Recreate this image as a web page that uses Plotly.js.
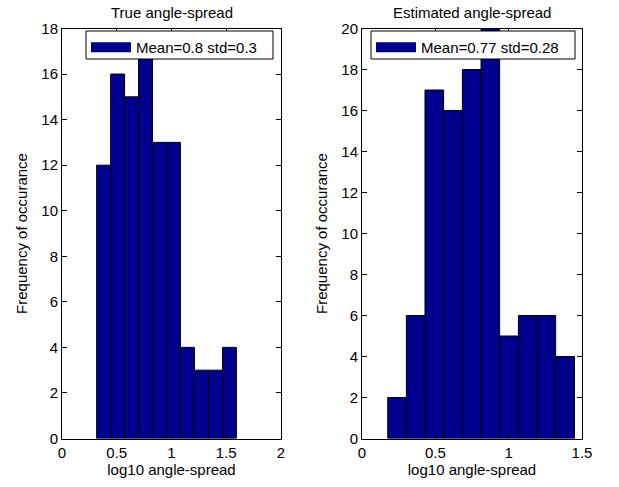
<!DOCTYPE html>
<html>
<head>
<meta charset="utf-8">
<script src="https://cdn.plot.ly/plotly-3.0.1.min.js"></script>
<style>html,body{margin:0;padding:0;background:#fff;}#chart{width:619px;height:487px;}</style>
</head>
<body>
<div id="chart"></div>
<script>
// ---- data ----
const trueBinCenters = [0.380, 0.508, 0.635, 0.763, 0.891, 1.018, 1.146, 1.274, 1.402, 1.529];
const trueCounts     = [12, 16, 15, 17, 13, 13, 4, 3, 3, 4];
const estBinCenters  = [0.239, 0.366, 0.493, 0.621, 0.748, 0.875, 1.003, 1.130, 1.257, 1.385];
const estCounts      = [2, 6, 17, 16, 18, 20, 5, 6, 6, 4];
const trueLegend = "Mean=0.8 std=0.3";
const estLegend  = "Mean=0.77 std=0.28";
const titles = ["True angle-spread", "Estimated angle-spread"];
const xLabel = "log10 angle-spread";
const yLabel = "Frequency of occurance";

const barColor = "#00008F";
const FONT = "Liberation Sans, Arial, Helvetica, sans-serif";

const traces = [
  {type: "bar", x: trueBinCenters, y: trueCounts, xaxis: "x", yaxis: "y",
   marker: {color: barColor, line: {color: "#000", width: 1}}, showlegend: false, hoverinfo: "x+y"},
  {type: "bar", x: estBinCenters, y: estCounts, xaxis: "x2", yaxis: "y2",
   marker: {color: barColor, line: {color: "#000", width: 1}}, showlegend: false, hoverinfo: "x+y"},
  {type: "scatter", mode: "lines", x: [null], y: [null], xaxis: "x", yaxis: "y",
   name: trueLegend, legend: "legend", line: {color: barColor, width: 11}},
  {type: "scatter", mode: "lines", x: [null], y: [null], xaxis: "x2", yaxis: "y2",
   name: estLegend, legend: "legend2", line: {color: barColor, width: 11}}
];

const W = 619, H = 487;
const px = v => v / W, py = v => 1 - v / H;

const axBase = {
  showline: true, linecolor: "#000", linewidth: 1, mirror: "ticks",
  ticks: "inside", ticklen: 5, tickcolor: "#000", tickwidth: 1,
  showgrid: false, zeroline: false, automargin: false,
  tickfont: {family: FONT, size: 15, color: "#000"}, fixedrange: true
};

const legBase = {
  xanchor: "left", yanchor: "top", bgcolor: "rgba(0,0,0,0)",
  borderwidth: 0, font: {family: FONT, size: 15, color: "#000"}, itemwidth: 40
};

function legendFrame(x0, x1, y0, y1) {
  return {type: "rect", xref: "paper", yref: "paper", layer: "above",
    x0: px(x0), x1: px(x1), y0: py(y1), y1: py(y0),
    fillcolor: "#fff", line: {color: "#000", width: 1}};
}

const layout = {
  width: W, height: H,
  margin: {l: 0, r: 0, t: 0, b: 0},
  paper_bgcolor: "#fff", plot_bgcolor: "#fff",
  font: {family: FONT, size: 15, color: "#000"},
  bargap: 0,
  xaxis: Object.assign({}, axBase, {domain: [px(62), px(281)], range: [0, 2], dtick: 0.5, tick0: 0,
    anchor: "y", title: {text: xLabel, font: {family: FONT, size: 15}, standoff: 4}}),
  yaxis: Object.assign({}, axBase, {domain: [py(438.5), py(28.5)], range: [0, 18], dtick: 2, tick0: 0,
    anchor: "x", title: {text: yLabel, font: {family: FONT, size: 15}, standoff: 10}}),
  xaxis2: Object.assign({}, axBase, {domain: [px(362), px(582)], range: [0, 1.5], dtick: 0.5, tick0: 0,
    anchor: "y2", title: {text: xLabel, font: {family: FONT, size: 15}, standoff: 4}}),
  yaxis2: Object.assign({}, axBase, {domain: [py(438.5), py(28.5)], range: [0, 20], dtick: 2, tick0: 0,
    anchor: "x2", title: {text: yLabel, font: {family: FONT, size: 15}, standoff: 10}}),
  legend: Object.assign({}, legBase, {x: px(86), y: py(31)}),
  legend2: Object.assign({}, legBase, {x: px(371), y: py(31)}),
  shapes: [legendFrame(86, 273, 31, 59), legendFrame(371, 575, 31, 59)],
  annotations: [
    {text: titles[0], xref: "paper", yref: "paper", x: (px(62) + px(281)) / 2, y: py(12),
     xanchor: "center", yanchor: "middle", showarrow: false, font: {family: FONT, size: 15, color: "#000"}},
    {text: titles[1], xref: "paper", yref: "paper", x: (px(362) + px(582)) / 2, y: py(12),
     xanchor: "center", yanchor: "middle", showarrow: false, font: {family: FONT, size: 15, color: "#000"}}
  ]
};

Plotly.newPlot("chart", traces, layout, {displayModeBar: false, staticPlot: true});
</script>
</body>
</html>
